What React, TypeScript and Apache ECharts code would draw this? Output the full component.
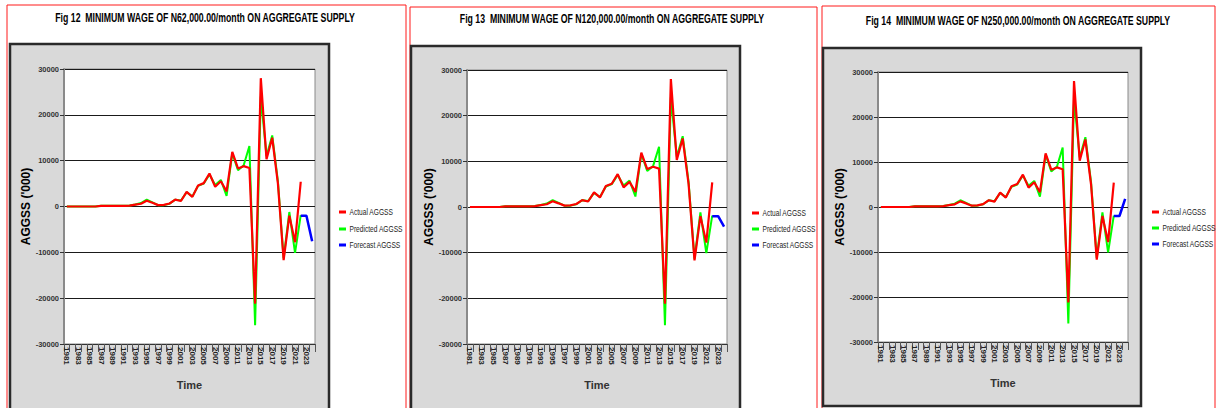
import React, { useEffect, useRef } from "react";
import * as echarts from "echarts";

const years = [
  "1981", "1982", "1983", "1984", "1985", "1986", "1987", "1988", "1989", "1990",
  "1991", "1992", "1993", "1994", "1995", "1996", "1997", "1998", "1999", "2000",
  "2001", "2002", "2003", "2004", "2005", "2006", "2007", "2008", "2009", "2010",
  "2011", "2012", "2013", "2014", "2015", "2016", "2017", "2018", "2019", "2020",
  "2021", "2022", "2023", "2024",
];

// Actual AGGSS 1981-2022
const actual = [
  0, 0, 0, 0, 0, 0, 150, 150, 150, 150,
  150, 200, 400, 600, 1250, 800, 300, 350, 650, 1500,
  1200, 3200, 2100, 4600, 5100, 7200, 4300, 5500, 3300, 11900,
  8300, 8800, 8400, -21200, 28000, 10300, 15000, 5000, -11700, -2000,
  -7800, 5400,
];

// Predicted AGGSS 1981-2022
const predicted = [
  0, 0, 0, 0, 0, 0, 150, 150, 150, 150,
  150, 200, 450, 750, 1500, 900, 300, 300, 600, 1500,
  1300, 3100, 2200, 4500, 5000, 7000, 4700, 5800, 2300, 11600,
  7900, 9000, 13200, -25900, 24000, 11000, 15500, 5500, -11300, -1200,
  -10100, -1900,
];

// Forecast AGGSS 2022-2024 for each scenario
const forecast62k = [-2000, -2000, -7600];
const forecast120k = [-2000, -2000, -4300];
const forecast250k = [-2000, -2000, 1800];

const titles = [
  "Fig 12  MINIMUM WAGE OF N62,000.00/month ON AGGREGATE SUPPLY",
  "Fig 13  MINIMUM WAGE OF N120,000.00/month ON AGGREGATE SUPPLY",
  "Fig 14  MINIMUM WAGE OF N250,000.00/month ON AGGREGATE SUPPLY",
];
const forecasts = [forecast62k, forecast120k, forecast250k];
const seriesNames = ["Actual AGGSS", "Predicted AGGSS", "Forecast AGGSS"];
const seriesColors = ["#ff0000", "#00ff00", "#0000ff"];

const SANS = "'Liberation Sans', Arial, sans-serif";

const panels = [
  { border: [7, 5, 399, 420], box: [10, 44, 319, 380], grid: [64, 69, 251, 275], titleX: 205, titleY: 17, legX: 339, legY: [212, 229, 245] },
  { border: [410, 7, 407, 420], box: [411, 46, 329, 380], grid: [467, 70, 260, 274], titleX: 612, titleY: 18, legX: 752, legY: [213, 229, 245] },
  { border: [822, 6, 393, 420], box: [823, 48, 318, 358], grid: [878, 72, 250, 270], titleX: 1018, titleY: 20, legX: 1152, legY: [212, 228, 244] },
];

export default function App() {
  const ref = useRef<HTMLDivElement>(null);
  useEffect(() => {
    document.body.style.margin = "0";
    const chart = echarts.init(ref.current!, null, { renderer: "svg" });
    const graphic: any[] = [];
    const grids: any[] = [];
    const xAxes: any[] = [];
    const yAxes: any[] = [];
    const series: any[] = [];

    panels.forEach((p, i) => {
      graphic.push({
        type: "rect",
        z: -10,
        shape: { x: p.border[0], y: p.border[1], width: p.border[2], height: p.border[3] },
        style: { fill: "#ffffff", stroke: "#ff1a1a", lineWidth: 1 },
      });
      graphic.push({
        type: "rect",
        z: -9,
        shape: { x: p.box[0], y: p.box[1], width: p.box[2], height: p.box[3] },
        style: { fill: "#d9d9d9", stroke: "#2a2a2a", lineWidth: 2.5 },
      });
      graphic.push({
        type: "text",
        x: p.titleX,
        y: p.titleY,
        scaleX: 0.7,
        style: {
          text: titles[i],
          fontFamily: SANS,
          fontWeight: "bold",
          fontSize: 12.5,
          fill: "#000",
          align: "center",
          verticalAlign: "middle",
        },
      });
      seriesNames.forEach((nm, k) => {
        graphic.push({
          type: "rect",
          shape: { x: p.legX, y: p.legY[k] - 1.5, width: 7, height: 3 },
          style: { fill: seriesColors[k] },
        });
        graphic.push({
          type: "text",
          x: p.legX + 10.5,
          y: p.legY[k],
          scaleX: 0.78,
          style: {
            text: nm,
            fontFamily: SANS,
            fontSize: 8.5,
            fill: "#222",
            align: "left",
            verticalAlign: "middle",
          },
        });
      });

      grids.push({
        left: p.grid[0],
        top: p.grid[1],
        width: p.grid[2],
        height: p.grid[3],
        show: true,
        backgroundColor: "#ffffff",
        borderColor: "#8a8a8a",
        borderWidth: 1,
        containLabel: false,
      });

      xAxes.push({
        type: "category",
        gridIndex: i,
        data: years,
        boundaryGap: true,
        name: "Time",
        nameLocation: "middle",
        nameGap: 35,
        nameTextStyle: { fontFamily: SANS, fontWeight: "bold", fontSize: 11, color: "#333" },
        axisLine: { show: true, onZero: false, lineStyle: { color: "#333", width: 1 } },
        axisTick: { show: true, interval: 0, length: 8, lineStyle: { color: "#555" } },
        axisLabel: {
          interval: 1,
          rotate: -90,
          margin: 3,
          fontFamily: SANS,
          fontWeight: "bold",
          fontSize: 8,
          color: "#222",
        },
        splitLine: { show: false },
      });

      yAxes.push({
        type: "value",
        gridIndex: i,
        min: -30000,
        max: 30000,
        interval: 10000,
        name: "AGGSS ('000)",
        nameLocation: "middle",
        nameGap: 24,
        nameTextStyle: { fontFamily: SANS, fontWeight: "bold", fontSize: 12, color: "#000" },
        axisLine: { show: true, lineStyle: { color: "#8a8a8a", width: 2 } },
        axisTick: { show: true, length: 4, lineStyle: { color: "#333" } },
        axisLabel: {
          margin: 5,
          fontFamily: SANS,
          fontWeight: "bold",
          fontSize: 7.5,
          color: "#333",
          formatter: (v: number) => String(v),
        },
        splitLine: { show: true, lineStyle: { color: "#1a1a1a", width: 1 } },
      });

      const fc = forecasts[i];
      const forecastData = years.map((_, k) => (k >= 41 ? fc[k - 41] : null));

      series.push({
        name: "Predicted AGGSS",
        type: "line",
        xAxisIndex: i,
        yAxisIndex: i,
        data: predicted,
        symbol: "none",
        z: 2,
        lineStyle: { color: "#00ff00", width: 2 },
        itemStyle: { color: "#00ff00" },
      });
      series.push({
        name: "Actual AGGSS",
        type: "line",
        xAxisIndex: i,
        yAxisIndex: i,
        data: actual,
        symbol: "none",
        z: 3,
        lineStyle: { color: "#ff0000", width: 2.2 },
        itemStyle: { color: "#ff0000" },
      });
      series.push({
        name: "Forecast AGGSS",
        type: "line",
        xAxisIndex: i,
        yAxisIndex: i,
        data: forecastData,
        symbol: "none",
        z: 4,
        lineStyle: { color: "#0000ff", width: 2.5 },
        itemStyle: { color: "#0000ff" },
      });
    });

    chart.setOption({
      animation: false,
      backgroundColor: "#ffffff",
      graphic,
      grid: grids,
      xAxis: xAxes,
      yAxis: yAxes,
      series,
    });
    return () => chart.dispose();
  }, []);
  return <div ref={ref} style={{ position: "fixed", left: 0, top: 0, width: 1218, height: 408 }} />;
}
